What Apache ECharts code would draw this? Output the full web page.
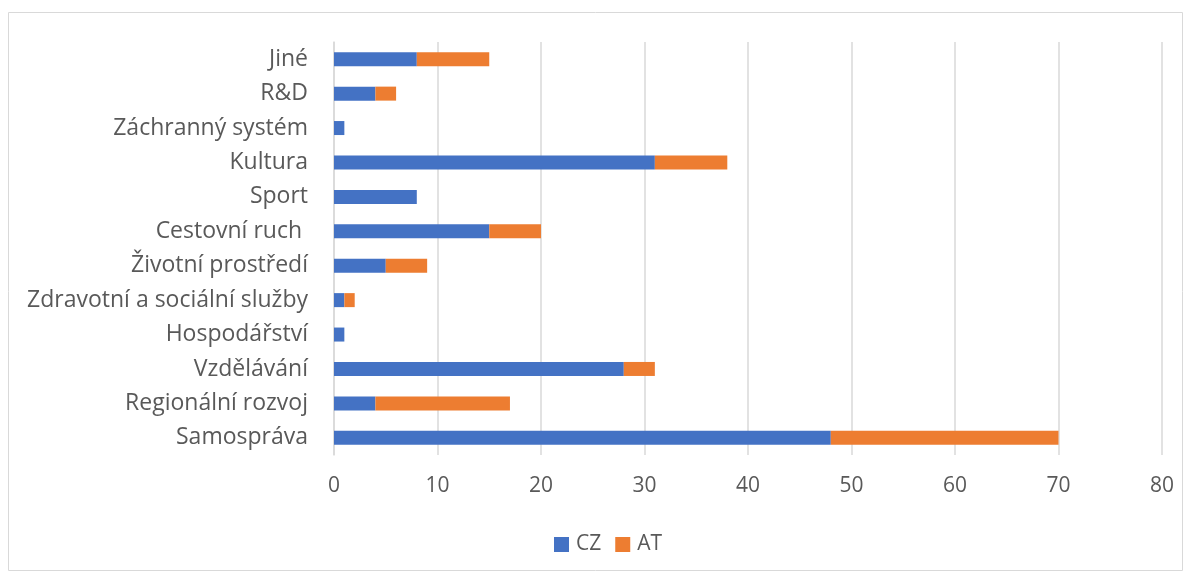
<!DOCTYPE html>
<html><head><meta charset="utf-8">
<script src="https://cdn.jsdelivr.net/npm/echarts@6/dist/echarts.min.js"></script>
<style>html,body{margin:0;padding:0;background:#fff}#c{width:1189px;height:575px}</style>
</head><body><div id="c"></div>
<script>
const categories = ['Samospráva','Regionální rozvoj','Vzdělávání','Hospodářství','Zdravotní a sociální služby','Životní prostředí','Cestovní ruch ','Sport','Kultura','Záchranný systém','R&D','Jiné'];
const cz = [48,4,28,1,1,5,15,8,31,1,4,8];
const at = [22,13,3,0,1,4,5,0,7,0,2,7];
const xTicks = {min:0,max:80,interval:10};
const font = '"Open Sans", "Noto Sans", sans-serif';
const chart = echarts.init(document.getElementById('c'));
chart.setOption({
  animation:false,
  textStyle:{fontFamily:font},
  graphic:[{type:'rect',shape:{x:8.5,y:12.5,width:1174,height:558},style:{fill:'none',stroke:'#d9d9d9',lineWidth:1},silent:true}],
  grid:{left:334,right:27,top:42,bottom:120},
  legend:{bottom:15,left:549,itemWidth:15,itemHeight:15,itemGap:14,icon:'rect',
    textStyle:{fontSize:21,color:'#595959',fontFamily:font,padding:[0,0,0,2]},data:['CZ','AT']},
  xAxis:{type:'value',min:xTicks.min,max:xTicks.max,interval:xTicks.interval,
    axisLine:{show:false},axisTick:{show:false},
    axisLabel:{fontSize:21,color:'#595959',margin:21,fontFamily:font},
    splitLine:{lineStyle:{color:'#d9d9d9',width:1.5}}},
  yAxis:{type:'category',data:categories,
    axisLine:{show:true,lineStyle:{color:'#d9d9d9',width:1.5}},axisTick:{show:false},
    axisLabel:{fontSize:23,color:'#595959',margin:26,fontFamily:font}},
  series:[
    {name:'CZ',type:'bar',stack:'a',data:cz,barWidth:14,itemStyle:{color:'#4472c4'}},
    {name:'AT',type:'bar',stack:'a',data:at,barWidth:14,itemStyle:{color:'#ed7d31'}}
  ]
});
</script></body></html>
